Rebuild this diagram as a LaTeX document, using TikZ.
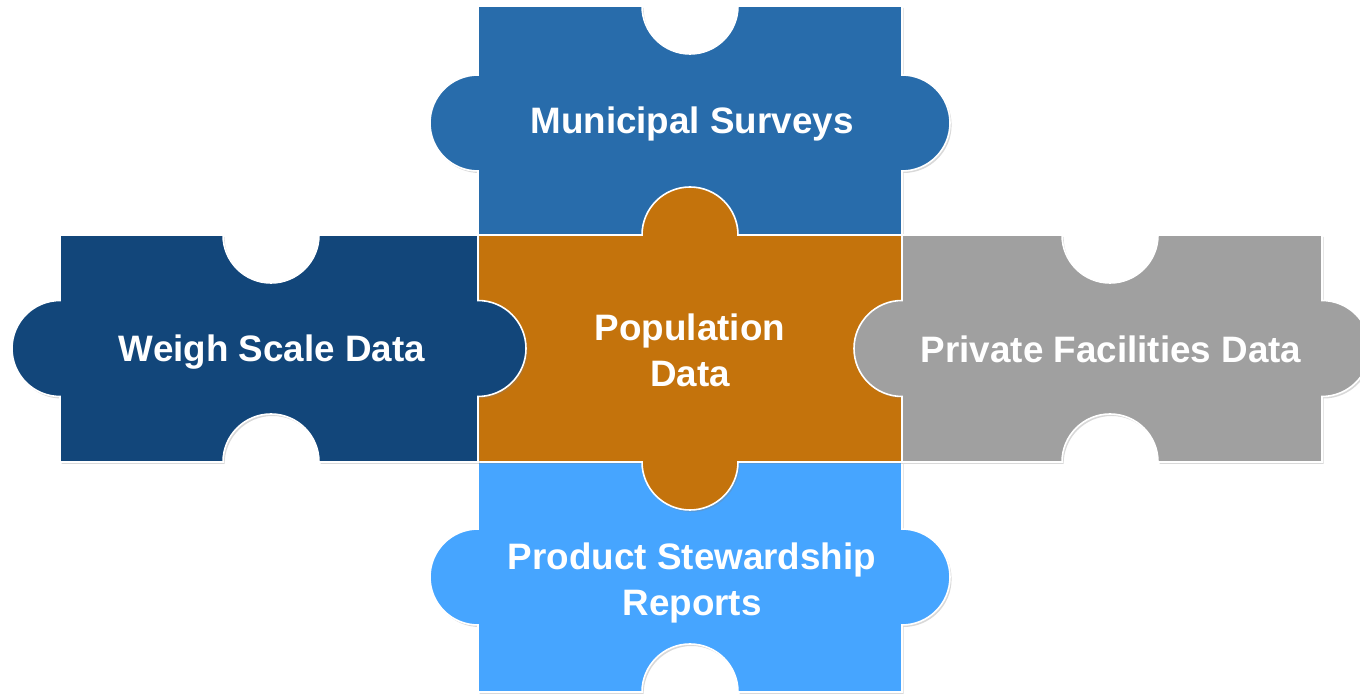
\documentclass[tikz,border=0pt]{standalone}
\usepackage{fontspec}
\setmainfont{Liberation Sans}
\usetikzlibrary{shadows}
\definecolor{surveyblue}{RGB}{40,108,171}
\definecolor{poporange}{RGB}{196,115,12}
\definecolor{scalenavy}{RGB}{18,70,122}
\definecolor{privgray}{RGB}{160,160,160}
\definecolor{prodblue}{RGB}{70,165,255}
\tikzstyle{piece} = [draw=white, line width=0.8pt, drop shadow={shadow xshift=0.8pt, shadow yshift=-1pt, opacity=0.3}]
\tikzstyle{lbl} = [text=white, font=\bfseries\fontsize{18.4}{23}\selectfont, align=center]

\begin{document}
\begin{tikzpicture}[x=0.5pt,y=0.5pt]
			\useasboundingbox (0,0) rectangle (1360,695);
			\clip (0,0) rectangle (1360,695);
			% top piece
			\path[piece,fill=surveyblue] (478,689) -- (642,689) arc[start angle=180,end angle=360,radius=48] -- (902,689) -- (902,620) arc[start angle=90,end angle=-90,radius=48] -- (902,460) -- (478,460) -- (478,524) arc[start angle=-90,end angle=-270,radius=48] -- cycle;
			% bottom piece
			\path[piece,fill=prodblue] (478,233) -- (902,233) -- (902,166) arc[start angle=90,end angle=-90,radius=48] -- (902,3) -- (738,3) arc[start angle=0,end angle=180,radius=48] -- (478,3) -- (478,70) arc[start angle=-90,end angle=-270,radius=48] -- cycle;
			% middle piece
			\path[piece,fill=poporange] (478,460) -- (642,460) arc[start angle=180,end angle=0,radius=48] -- (902,460) -- (902,233) -- (738,233) arc[start angle=0,end angle=-180,radius=48] -- (478,233) -- cycle;
			% left piece
			\path[piece,fill=scalenavy] (60,460) -- (223,460) arc[start angle=180,end angle=360,radius=48] -- (478,460) -- (478,394.5) arc[start angle=90,end angle=-90,radius=48] -- (478,233) -- (319,233) arc[start angle=0,end angle=180,radius=48] -- (60,233) -- (60,298.5) arc[start angle=-90,end angle=-270,radius=48] -- cycle;
			% right piece
			\path[piece,fill=privgray] (902,460) -- (1062,460) arc[start angle=180,end angle=360,radius=48] -- (1322,460) -- (1322,394.5) arc[start angle=90,end angle=-90,radius=48] -- (1322,233) -- (1158,233) arc[start angle=0,end angle=180,radius=48] -- (902,233) -- (902,298.5) arc[start angle=-90,end angle=-270,radius=48] -- cycle;
			\node[lbl](surveys) at (692,571){Municipal Surveys};
			\node[lbl](scale) at (272,343){Weigh Scale Data};
			\node[lbl](population) at (690,345){Population\\Data};
			\node[lbl](private) at (1111,346){Private Facilities Data};
			\node[lbl](product) at (692,112){Product Stewardship\\Reports};
		\end{tikzpicture}
\end{document}
